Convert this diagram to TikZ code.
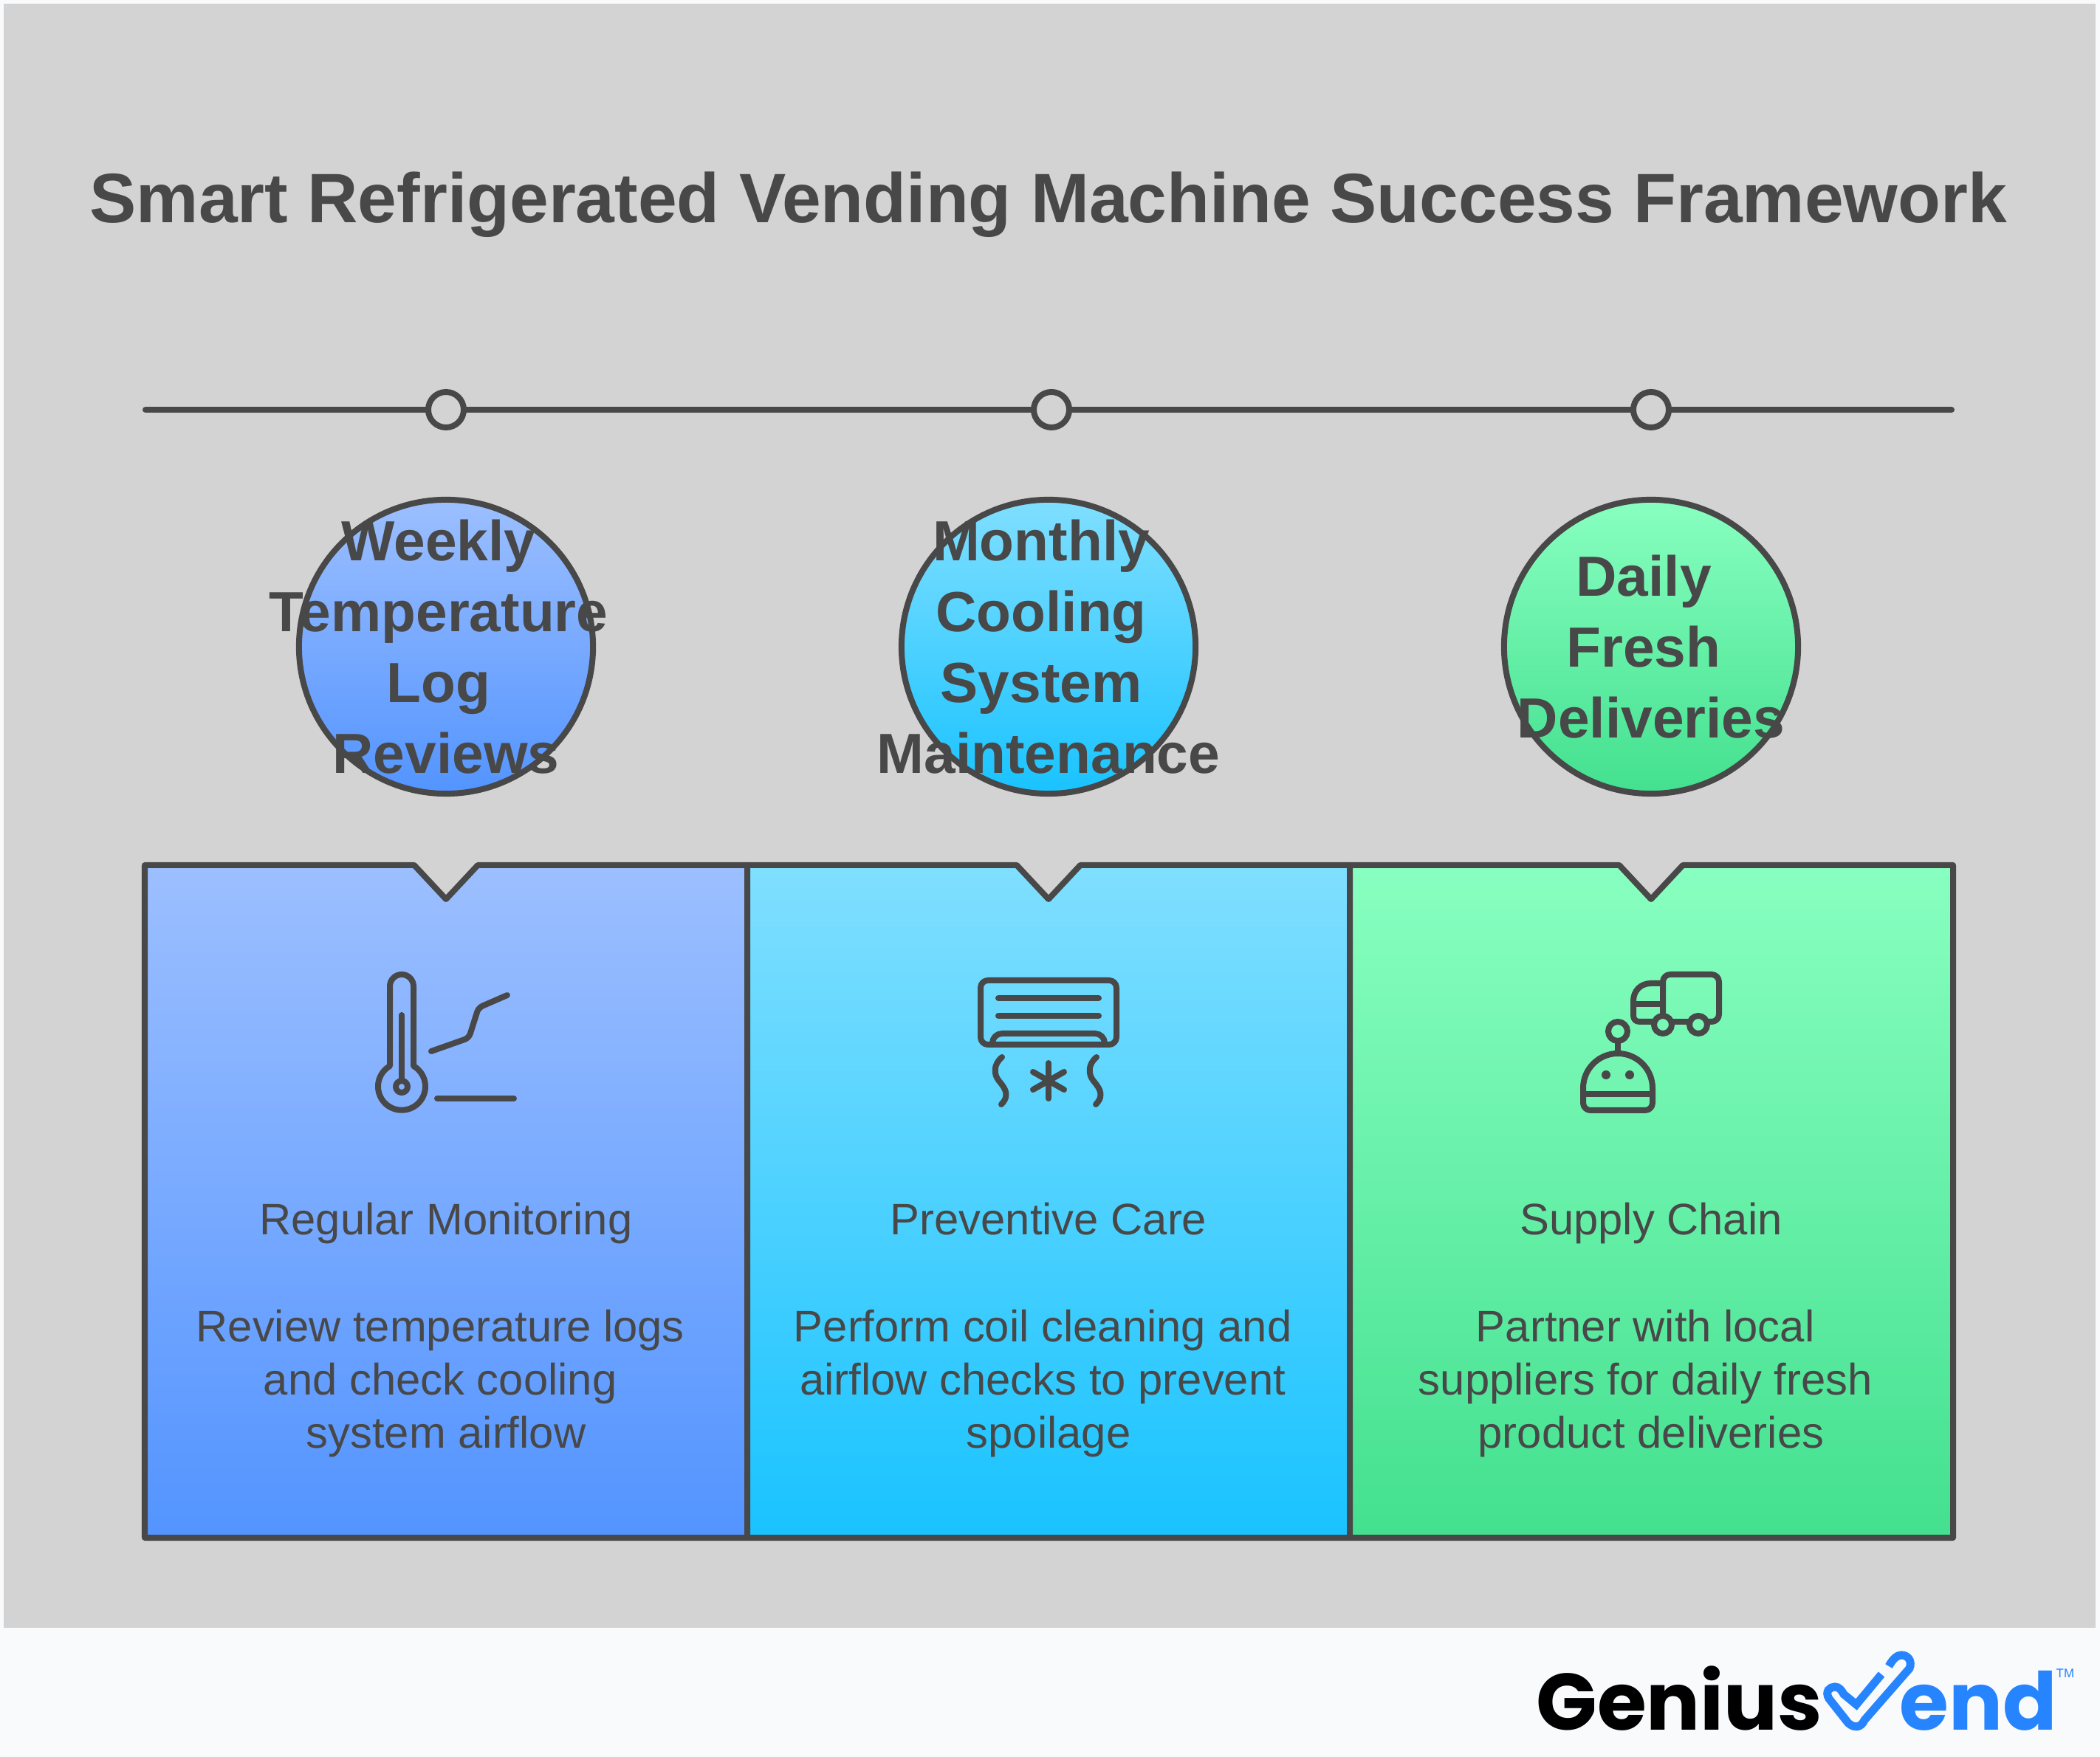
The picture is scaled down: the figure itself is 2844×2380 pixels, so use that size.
\documentclass[tikz,border=0pt]{standalone}
\usepackage{fontspec}
\setmainfont{Liberation Sans}
\newfontfamily\logofont{Poppins}
\usepackage{tikz}
\usetikzlibrary{positioning}

\definecolor{inkgrey}{HTML}{484848}
\definecolor{panelgrey}{HTML}{D3D3D3}
\definecolor{pagewhite}{HTML}{F8FAFC}
\definecolor{blueA}{HTML}{9CBFFF}
\definecolor{blueB}{HTML}{5394FF}
\definecolor{cyanA}{HTML}{80DFFF}
\definecolor{cyanB}{HTML}{19C3FF}
\definecolor{greenA}{HTML}{88FFC0}
\definecolor{greenB}{HTML}{43E08F}
\definecolor{logoblue}{HTML}{2684FF}

% trailing blank kept by the wrapped lines
\newcommand{\lnsp}{\hbox to 0.26em{}}

\tikzset{
	ink/.style={draw=inkgrey, line width=0.08cm},
	dot/.style={ink, circle, fill=panelgrey, minimum size=0.48cm, inner sep=0pt},
	disc/.style={ink, circle, minimum size=3.98cm, inner sep=0pt},
	box/.style={ink, line join=round},
	icon/.style={ink, line cap=round, line join=round},
	heading/.style={text=inkgrey, inner sep=0pt, font=\fontsize{26.95}{30}\selectfont\bfseries},
	disctext/.style={text=inkgrey, inner sep=0pt, align=center, font=\fontsize{21.8}{27.3}\selectfont\bfseries},
	bodytext/.style={text=inkgrey, inner sep=0pt, align=center, font=\fontsize{17}{20.6}\selectfont},
}

\begin{document}
\begin{tikzpicture}[x=0.01cm, y=-0.01cm]

	\useasboundingbox (0,0) rectangle (2844,2380);
	\fill[pagewhite] (0,0) rectangle (2844,2380);
	\fill[panelgrey] (5,5) rectangle (2838,2205);

	\node[heading] (Title) at (1420,277) {Smart Refrigerated Vending Machine Success Framework};

	% timeline
	\coordinate (TL) at (197,555);
	\coordinate (TR) at (2643,555);
	\node[dot] (D1) at (604,555) {};
	\node[dot] (D2) at (1424,555) {};
	\node[dot] (D3) at (2236,555) {};
	\draw[ink, line cap=round] (TL) -- (D1) (D1) -- (D2) (D2) -- (D3) (D3) -- (TR);

	% discs, the text is wider than they are
	\node[disc, top color=blueA, bottom color=blueB] (W1) at (604,876) {};
	\node[disc, top color=cyanA, bottom color=cyanB] (W2) at (1420,876) {};
	\node[disc, top color=greenA, bottom color=greenB] (W3) at (2236,876) {};

	\node[disctext] (T1) at (W1) {Weekly\lnsp\\Temperature\lnsp\\Log\lnsp\\Reviews};
	\node[disctext] (T2) at (W2) {Monthly\lnsp\\Cooling\lnsp\\System\lnsp\\Maintenance};
	\node[disctext] (T3) at (W3) {Daily\lnsp\\Fresh\lnsp\\Deliveries};

	% panels
	\draw[box, top color=blueA, bottom color=blueB] (196,1172) -- (561,1172) -- (604,1218) -- (647,1172) -- (1012,1172) -- (1012,2083) -- (196,2083) -- cycle;
	\draw[box, top color=cyanA, bottom color=cyanB] (1012,1172) -- (1377,1172) -- (1420,1218) -- (1463,1172) -- (1828,1172) -- (1828,2083) -- (1012,2083) -- cycle;
	\draw[box, top color=greenA, bottom color=greenB] (1828,1172) -- (2193,1172) -- (2236,1218) -- (2279,1172) -- (2645,1172) -- (2645,2083) -- (1828,2083) -- cycle;

	\node[bodytext, anchor=base] (H1) at (604,1673) {Regular Monitoring};
	\node[bodytext, anchor=base] (H2) at (1420,1673) {Preventive Care};
	\node[bodytext, anchor=base] (H3) at (2236,1673) {Supply Chain};

	\node[bodytext] (B1) at (604,1874) {Review temperature logs\lnsp\\and check cooling\lnsp\\system airflow};
	\node[bodytext] (B2) at (1420,1874) {Perform coil cleaning and\lnsp\\airflow checks to prevent\lnsp\\spoilage};
	\node[bodytext] (B3) at (2236,1874) {Partner with local\lnsp\\suppliers for daily fresh\lnsp\\product deliveries};

	% thermometer icon
	\draw[icon] (528,1444) -- (528,1336) arc (180:360:16) -- (560,1444) arc (-60:240:32) -- cycle;
	\draw[icon] (544,1375) -- (544,1464);
	\draw[icon] (544,1472) circle (8);
	\draw[icon, rounded corners=0.06cm] (584,1424) -- (635,1406) -- (648,1365) -- (687,1348);
	\draw[icon] (592,1488) -- (696,1488);

	% air conditioner icon
	\draw[icon, rounded corners=0.1cm] (1328,1328) rectangle (1512,1415);
	\draw[icon] (1352,1352) -- (1488,1352);
	\draw[icon] (1352,1376) -- (1488,1376);
	\draw[icon, rounded corners=0.13cm] (1344,1415) -- (1344,1400) -- (1496,1400) -- (1496,1415);
	\draw[icon] (1357,1432) .. controls (1345,1442) and (1346,1455) .. (1352,1463) .. controls (1358,1471) and (1370,1482) .. (1356,1496);
	\draw[icon] (1485,1432) .. controls (1473,1442) and (1474,1455) .. (1480,1463) .. controls (1486,1471) and (1498,1482) .. (1484,1496);
	\draw[icon] (1420,1440) -- (1420,1488);
	\draw[icon] (1399,1452) -- (1441,1476);
	\draw[icon] (1441,1452) -- (1399,1476);

	% robot and truck icon
	\draw[icon, rounded corners=0.1cm] (2252,1372) -- (2252,1320) -- (2328,1320) -- (2328,1384) -- (2312,1384);
	\draw[icon] (2264,1384) -- (2288,1384);
	\draw[icon] (2252,1332) -- (2236,1332) .. controls (2222,1332) and (2212,1342) .. (2212,1356) -- (2212,1375) .. controls (2212,1381) and (2215,1384) .. (2221,1384) -- (2240,1384);
	\draw[icon] (2212,1360) -- (2252,1360);
	\draw[icon] (2252,1388) circle (12);
	\draw[icon] (2300,1388) circle (12);
	\draw[icon] (2191,1397) circle (13);
	\draw[icon] (2191,1410) -- (2191,1427);
	\draw[icon] (2144,1474) arc (180:360:47) [rounded corners=0.1cm] -- (2238,1504) -- (2144,1504) -- (2144,1474);
	\draw[icon] (2144,1482) -- (2238,1482);
	\fill[inkgrey] (2175,1456) circle (6);
	\fill[inkgrey] (2207,1456) circle (6);

	% logo
	\node[anchor=base west, inner sep=0pt, text=black, font=\logofont\fontsize{30.8}{32}\selectfont\bfseries] (Genius) at (2080,2343) {Genius};
	\node[anchor=base west, inner sep=0pt, text=logoblue, font=\logofont\fontsize{30.8}{32}\selectfont\bfseries] (End) at (2572,2343) {end};
	\node[anchor=base west, inner sep=0pt, text=logoblue, font=\fontsize{4.8}{5}\selectfont] (TM) at (2784,2272) {TM};
	\draw[logoblue, line width=0.11cm, line join=miter] (2558,2257) .. controls (2564,2246) and (2570,2242) .. (2575,2242) .. controls (2584,2242) and (2590,2250) .. (2586,2260) -- (2525,2330) .. controls (2520,2341) and (2511,2341) .. (2503,2334) -- (2477,2301) .. controls (2471,2291) and (2478,2285) .. (2485,2285) .. controls (2491,2285) and (2494,2290) .. (2497,2295) -- (2514,2309) -- (2548,2268);

\end{tikzpicture}
\end{document}
